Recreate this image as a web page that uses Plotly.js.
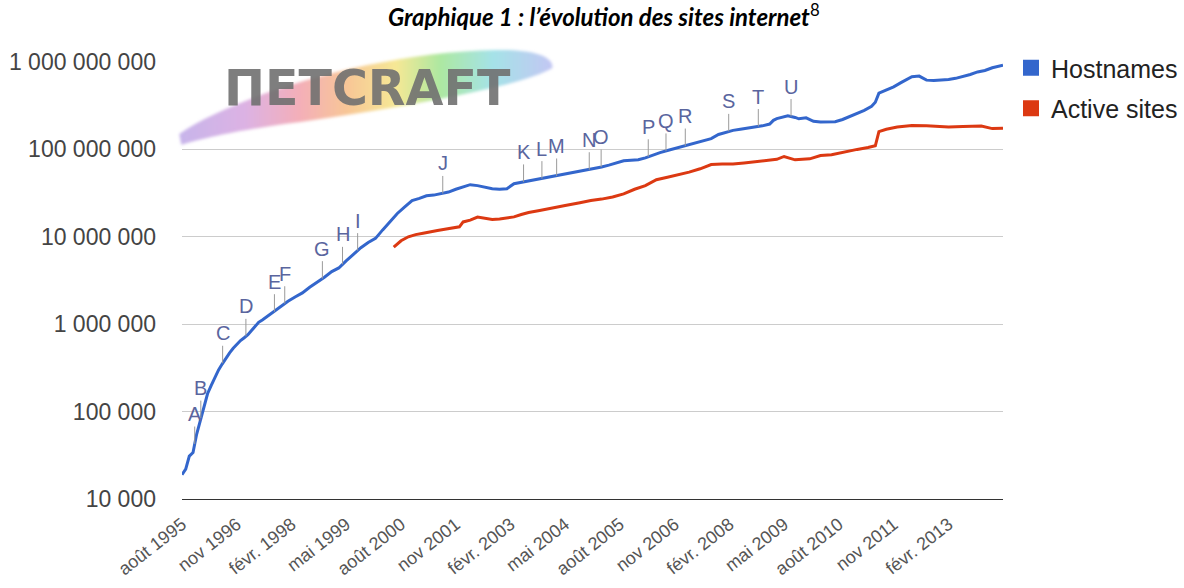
<!DOCTYPE html>
<html>
<head>
<meta charset="utf-8">
<script src="https://cdn.plot.ly/plotly-3.0.1.min.js"></script>
<style>html,body{margin:0;padding:0;background:#fff;}#chart{width:1184px;height:588px;}</style>
</head>
<body>
<div id="chart"></div>
<script>
// ---- data ----
const hostDates = ['1995-08','1995-09','1995-10','1995-11','1995-12','1996-01','1996-02','1996-03','1996-04','1996-05','1996-06','1996-07','1996-08','1996-09','1996-10','1996-11','1996-12','1997-01','1997-02','1997-03','1997-04','1997-05','1997-06','1997-07','1997-09','1997-11','1998-01','1998-03','1998-05','1998-07','1998-09','1998-11','1999-01','1999-03','1999-05','1999-07','1999-09','1999-11','2000-01','2000-03','2000-05','2000-07','2000-09','2000-11','2001-01','2001-03','2001-05','2001-07','2001-09','2001-11','2002-01','2002-03','2002-05','2002-07','2002-09','2002-11','2003-01','2003-03','2003-05','2003-07','2003-09','2003-11','2004-01','2004-03','2004-05','2004-07','2004-09','2004-11','2005-01','2005-03','2005-05','2005-07','2005-09','2005-11','2006-01','2006-03','2006-05','2006-07','2006-09','2006-11','2007-01','2007-03','2007-05','2007-07','2007-09','2007-11','2008-01','2008-03','2008-05','2008-07','2008-09','2008-11','2009-01','2009-02','2009-03','2009-05','2009-06','2009-08','2009-09','2009-11','2010-01','2010-03','2010-05','2010-07','2010-09','2010-11','2011-01','2011-03','2011-05','2011-06','2011-07','2011-09','2011-11','2012-01','2012-03','2012-04','2012-06','2012-08','2012-10','2012-12','2013-02','2013-04','2013-06','2013-08','2013-10','2013-12','2014-02','2014-04','2014-05'];
const hostValues = [19000,22000,31000,34000,55000,80000,120000,160000,200000,250000,300000,350000,410000,470000,530000,590000,650000,700000,760000,840000,950000,1050000,1120000,1200000,1360000,1580000,1830000,2050000,2280000,2650000,3000000,3450000,4000000,4400000,5300000,6300000,7500000,8600000,9600000,12000000,15000000,18500000,22000000,26000000,27500000,29500000,30000000,31000000,32500000,35000000,37000000,39500000,38500000,37000000,35500000,35000000,35500000,40500000,42000000,43500000,45500000,46500000,48000000,50000000,52000000,54000000,56500000,58000000,60000000,63000000,66000000,70000000,74000000,75000000,76000000,80000000,86000000,92000000,97000000,102000000,107000000,112000000,119000000,126000000,133000000,148000000,158000000,165000000,170000000,175000000,180000000,186000000,195000000,215000000,225000000,236000000,242000000,232000000,224000000,230000000,210000000,206000000,205000000,207000000,220000000,238000000,255000000,280000000,312000000,346000000,440000000,480000000,520000000,580000000,650000000,680000000,690000000,620000000,615000000,620000000,630000000,650000000,680000000,720000000,770000000,800000000,860000000,900000000,920000000];

const activeDates = ['2000-06','2000-08','2000-10','2000-12','2001-02','2001-04','2001-06','2001-08','2001-10','2001-12','2002-01','2002-03','2002-05','2002-07','2002-09','2002-11','2003-01','2003-03','2003-05','2003-07','2003-10','2004-01','2004-05','2004-09','2004-12','2005-03','2005-06','2005-09','2005-12','2006-03','2006-06','2006-09','2006-12','2007-03','2007-06','2007-09','2007-12','2008-03','2008-06','2008-09','2008-12','2009-03','2009-05','2009-08','2009-12','2010-03','2010-06','2010-09','2011-01','2011-04','2011-06','2011-07','2011-09','2011-12','2012-04','2012-08','2013-02','2013-06','2013-11','2014-02','2014-05'];
const activeValues = [7600000,9000000,10000000,10600000,11000000,11300000,11800000,12200000,12600000,13000000,14800000,15500000,16800000,16200000,15800000,16000000,16500000,16900000,18000000,19000000,20000000,21000000,22800000,24500000,26000000,27000000,28500000,31000000,35000000,38500000,45000000,48000000,51000000,55000000,60000000,67000000,68000000,68000000,70000000,72000000,74000000,77000000,83000000,76000000,78000000,85000000,87000000,93000000,100000000,105000000,110000000,160000000,170000000,180000000,188000000,186000000,180000000,183000000,185000000,173000000,175000000];

const markLetters = ['A','B','C','D','E','F','G','H','I','J','K','L','M','N','O','P','Q','R','S','T','U'];
const markDates = ['1995-11-15','1996-01-05','1996-07-05','1997-01-15','1997-09-10','1997-12-05','1998-10-15','1999-04-01','1999-08-05','2001-07-15','2003-05-20','2003-10-20','2004-02-20','2004-11-18','2005-02-25','2006-03-25','2006-08-20','2007-01-28','2008-01-25','2008-09-28','2009-06-28'];

const tickDates = ['1995-08-01','1996-11-01','1998-02-01','1999-05-01','2000-08-01','2001-11-01','2003-02-01','2004-05-01','2005-08-01','2006-11-01','2008-02-01','2009-05-01','2010-08-01','2011-11-01','2013-02-01'];
const tickLabels = ['août 1995','nov 1996','févr. 1998','mai 1999','août 2000','nov 2001','févr. 2003','mai 2004','août 2005','nov 2006','févr. 2008','mai 2009','août 2010','nov 2011','févr. 2013'];
const yTickValues = [1e4,1e5,1e6,1e7,1e8,1e9];
const yTickLabels = ['10 000','100 000','1 000 000','10 000 000','100 000 000','1 000 000 000'];
const seriesNames = ['Hostnames','Active sites'];

// ---- helpers ----
const t = s => Date.parse(s.length === 7 ? s + '-01' : s);
function hostAt(d) {
  const x = t(d);
  for (let i = 0; i < hostDates.length - 1; i++) {
    const a = t(hostDates[i]), b = t(hostDates[i + 1]);
    if (x >= a && x <= b) {
      const f = (x - a) / (b - a);
      return Math.log10(hostValues[i]) * (1 - f) + Math.log10(hostValues[i + 1]) * f;
    }
  }
  return Math.log10(hostValues[hostValues.length - 1]);
}

const BLUE = '#3366cc', RED = '#dc3912';
const SANS = 'Liberation Sans, Arial, sans-serif';

const traces = [
  {x: hostDates, y: hostValues, type: 'scatter', mode: 'lines', name: seriesNames[0],
   line: {color: BLUE, width: 3}, showlegend: false},
  {x: activeDates, y: activeValues, type: 'scatter', mode: 'lines', name: seriesNames[1],
   line: {color: RED, width: 3}, showlegend: false},
  {x: [null], y: [null], type: 'scatter', mode: 'markers', name: seriesNames[0], legendgroup: 'a',
   marker: {symbol: 'square', size: 16, color: BLUE}},
  {x: [null], y: [null], type: 'scatter', mode: 'markers', name: seriesNames[1], legendgroup: 'b',
   marker: {symbol: 'square', size: 16, color: RED}}
];

const annotations = markLetters.map((L, i) => ({
  x: markDates[i], y: hostAt(markDates[i]), xref: 'x', yref: 'y',
  text: L, showarrow: true, arrowhead: 0, arrowwidth: 1, arrowcolor: '#9a9a9a',
  ax: 0, ay: -30, standoff: 0,
  font: {family: SANS, size: 20, color: '#5a659e'}
}));

// Netcraft logo text
annotations.push({
  xref: 'paper', yref: 'paper', x: 0.226, y: 0.94, xanchor: 'center', yanchor: 'middle',
  text: '<b>ΠETCRAFT</b>', showarrow: false,
  font: {family: 'DejaVu Sans, sans-serif', size: 49, color: 'rgba(112,112,112,0.9)'}
});

const swoosh = 'data:image/svg+xml;utf8,' + encodeURIComponent(
 '<svg xmlns="http://www.w3.org/2000/svg" width="380" height="110" viewBox="0 0 380 110">' +
 '<defs><linearGradient id="g" x1="0" y1="0" x2="1" y2="0">' +
 '<stop offset="0" stop-color="#b9a2e6"/><stop offset="0.18" stop-color="#d49fdc"/>' +
 '<stop offset="0.32" stop-color="#f09aa8"/><stop offset="0.45" stop-color="#f6b87c"/>' +
 '<stop offset="0.58" stop-color="#f4e27a"/><stop offset="0.7" stop-color="#98e28a"/>' +
 '<stop offset="0.84" stop-color="#8edbe2"/><stop offset="1" stop-color="#b4b8f0"/>' +
 '</linearGradient><filter id="b"><feGaussianBlur stdDeviation="1.5"/></filter></defs>' +
 '<path filter="url(#b)" fill="url(#g)" fill-opacity="0.8" d="M3,94 C60,55 200,12 320,10 C355,9 378,16 376,28 C350,44 250,64 124,82 C60,90 25,99 5,105 Z"/>' +
 '</svg>');

const layout = {
  width: 1184, height: 588,
  margin: {l: 182, r: 181, t: 62, b: 89},
  paper_bgcolor: '#fff', plot_bgcolor: '#fff',
  title: {
    text: '<b><i>Graphique 1 : l’évolution des sites internet</i></b><sup>8</sup>',
    font: {family: 'Lato, Open Sans, sans-serif', size: 24, color: '#000'},
    x: 0.51, xref: 'container', xanchor: 'center', y: 0.984, yref: 'container', yanchor: 'top'
  },
  xaxis: {
    type: 'date', range: [hostDates[0], hostDates[hostDates.length - 1]],
    tickvals: tickDates, ticktext: tickLabels, tickangle: -38,
    showgrid: false, zeroline: false, showline: true, linecolor: '#333', linewidth: 1,
    ticks: '', ticklabelstandoff: 7, automargin: false,
    tickfont: {family: SANS, size: 18, color: '#555'}
  },
  yaxis: {
    type: 'log', range: [4, 9], tickvals: yTickValues, ticktext: yTickLabels,
    showgrid: true, gridcolor: '#cccccc', gridwidth: 1, zeroline: false, showline: false,
    ticks: '', ticklabelstandoff: 25, automargin: false,
    tickfont: {family: SANS, size: 23, color: '#444'}
  },
  legend: {
    xref: 'container', yref: 'container',
    x: 1011 / 1184, xanchor: 'left', y: 1 - 45 / 588, yanchor: 'top',
    font: {family: SANS, size: 25, color: '#222'},
    tracegroupgap: 5, bgcolor: 'rgba(0,0,0,0)'
  },
  images: [{source: swoosh, xref: 'paper', yref: 'paper', x: -0.007, y: 1.05,
            sizex: 0.463, sizey: 0.251, sizing: 'stretch', layer: 'below', xanchor: 'left', yanchor: 'top'}],
  annotations: annotations,
  showlegend: true
};

Plotly.newPlot('chart', traces, layout, {displayModeBar: false, staticPlot: true});
</script>
</body>
</html>
